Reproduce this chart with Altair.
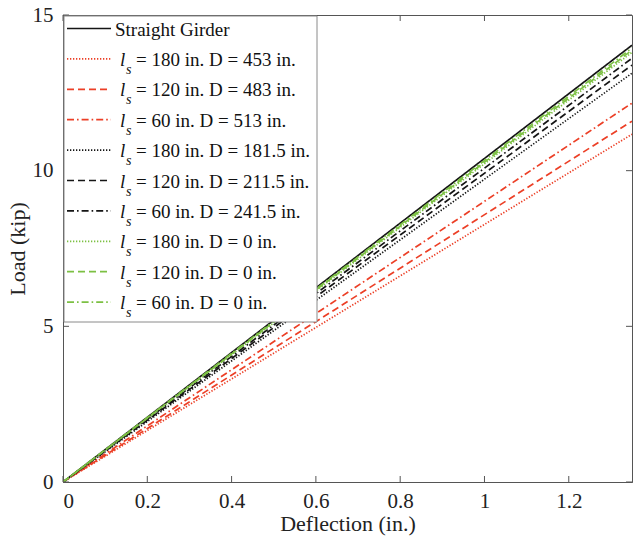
import altair as alt
import pandas as pd

# ---- data ----
series = [
    "Straight Girder",
    "ls180_D453", "ls120_D483", "ls60_D513",
    "ls180_D181.5", "ls120_D211.5", "ls60_D241.5",
    "ls180_D0", "ls120_D0", "ls60_D0",
]
ls_values = ["", "180", "120", "60", "180", "120", "60", "180", "120", "60"]
d_values = ["", "453", "483", "513", "181.5", "211.5", "241.5", "0", "0", "0"]
deflection = [0.0, 1.35]
load_end = [14.03, 11.17, 11.59, 12.17, 13.13, 13.39, 13.61, 13.80, 13.87, 13.94]

x_ticks = [0, 0.2, 0.4, 0.6, 0.8, 1.0, 1.2]
y_ticks = [0, 5, 10, 15]

# ---- styles ----
RED = "#ec3f26"
BLK = "#151515"
GRN = "#7cc043"
colors = [BLK, RED, RED, RED, BLK, BLK, BLK, GRN, GRN, GRN]
DOT = [1.3, 1.7]
DASH = [7, 4]
DASHDOT = [7, 3, 1.6, 3]
dashes = [[1, 0], DOT, DASH, DASHDOT, DOT, DASH, DASHDOT, DOT, DASH, DASHDOT]

FONT = "Liberation Serif"
W, H = 569, 467
FRAME = "#555555"

rows = []
for s, end in zip(series, load_end):
    rows.append({"series": s, "x": deflection[0], "y": 0.0})
    rows.append({"series": s, "x": deflection[1], "y": end})
df = pd.DataFrame(rows)

xscale = alt.Scale(domain=[0, 1.35], nice=False, zero=False)
yscale = alt.Scale(domain=[0, 15], nice=False)

lines = alt.Chart(df).mark_line(strokeWidth=1.7, clip=True).encode(
    x=alt.X("x:Q", scale=xscale,
            axis=alt.Axis(values=x_ticks, format="~g", title="Deflection (in.)",
                          ticks=False, grid=False, domainColor=FRAME,
                          labelFont=FONT, labelFontSize=21, labelColor="#222",
                          labelPadding=8, titleFont=FONT, titleFontSize=22,
                          titleFontWeight="normal", titleColor="#222",
                          titlePadding=2)),
    y=alt.Y("y:Q", scale=yscale,
            axis=alt.Axis(values=y_ticks, format="~g", title="Load (kip)",
                          ticks=False, grid=False, domainColor=FRAME,
                          labelFont=FONT, labelFontSize=21, labelColor="#222",
                          labelPadding=10, titleFont=FONT, titleFontSize=22,
                          titleFontWeight="normal", titleColor="#222",
                          titlePadding=3)),
    color=alt.Color("series:N", scale=alt.Scale(domain=series, range=colors), legend=None),
    strokeDash=alt.StrokeDash("series:N", scale=alt.Scale(domain=series, range=dashes), legend=None),
    order=alt.Order("x:Q"),
)

# inward ticks on all four sides
xt = pd.DataFrame({"t": x_ticks})
yt = pd.DataFrame({"t": y_ticks})
TL = 6
tick_layers = [
    alt.Chart(xt).mark_rule(color=FRAME, strokeWidth=1).encode(
        x=alt.X("t:Q", scale=xscale), y=alt.value(H), y2=alt.value(H - TL)),
    alt.Chart(xt).mark_rule(color=FRAME, strokeWidth=1).encode(
        x=alt.X("t:Q", scale=xscale), y=alt.value(0), y2=alt.value(TL)),
    alt.Chart(yt).mark_rule(color=FRAME, strokeWidth=1).encode(
        y=alt.Y("t:Q", scale=yscale), x=alt.value(0), x2=alt.value(TL)),
    alt.Chart(yt).mark_rule(color=FRAME, strokeWidth=1).encode(
        y=alt.Y("t:Q", scale=yscale), x=alt.value(W), x2=alt.value(W - TL)),
]

# custom legend (subscripted l_s labels)
one = pd.DataFrame({"k": [0]})
LEG_L, LEG_R, LEG_T, LEG_B = 1, 254, 1, 307
legend_layers = [
    alt.Chart(one).mark_rect(fill="white", stroke="#8a8a8a", strokeWidth=1).encode(
        x=alt.value(LEG_L), x2=alt.value(LEG_R), y=alt.value(LEG_T), y2=alt.value(LEG_B))
]
ROW0, ROWH = 13.5, 30.4
for i, s in enumerate(series):
    yc = ROW0 + ROWH * i
    legend_layers.append(
        alt.Chart(one).mark_rule(color=colors[i], strokeDash=dashes[i], strokeWidth=1.7).encode(
            x=alt.value(4), x2=alt.value(48), y=alt.value(yc)))
    if i == 0:
        legend_layers.append(
            alt.Chart(one).mark_text(text=s, font=FONT, fontSize=19, align="left",
                                     baseline="middle", color="#111").encode(
                x=alt.value(52), y=alt.value(yc + 1)))
    else:
        legend_layers.append(
            alt.Chart(one).mark_text(text="l", font=FONT, fontSize=19, fontStyle="italic",
                                     align="left", baseline="middle", color="#111").encode(
                x=alt.value(57), y=alt.value(yc + 1)))
        legend_layers.append(
            alt.Chart(one).mark_text(text="s", font=FONT, fontSize=14, fontStyle="italic",
                                     align="left", baseline="middle", color="#111").encode(
                x=alt.value(63), y=alt.value(yc + 11)))
        legend_layers.append(
            alt.Chart(one).mark_text(text=f"= {ls_values[i]} in. D = {d_values[i]} in.",
                                     font=FONT, fontSize=19, align="left",
                                     baseline="middle", color="#111").encode(
                x=alt.value(73), y=alt.value(yc + 1)))

chart = alt.layer(lines, *tick_layers, *legend_layers).properties(
    width=W, height=H,
    autosize=alt.AutoSizeParams(type="none"),
    padding={"left": 63, "top": 15, "right": 1, "bottom": 58},
    background="white",
).configure_view(stroke=FRAME, strokeWidth=1)

chart.save("out.html", embed_options={"renderer": "svg", "actions": False})
